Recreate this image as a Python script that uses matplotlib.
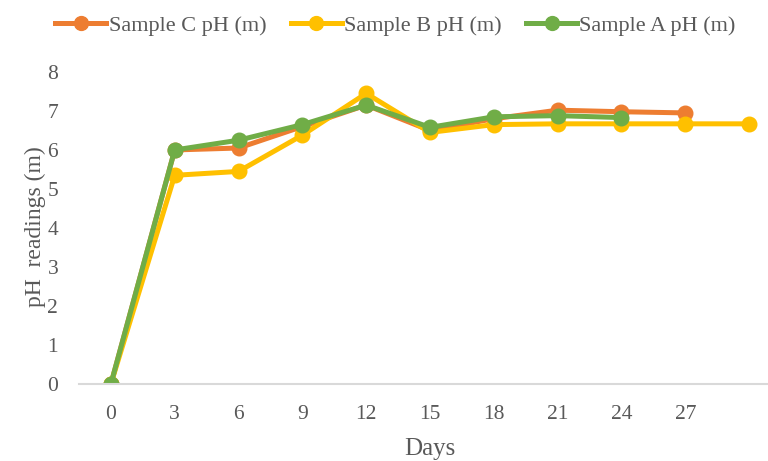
import matplotlib
matplotlib.use("Agg")
import matplotlib.pyplot as plt

days = ["0", "3", "6", "9", "12", "15", "18", "21", "24", "27", ""]
sample_c = [0, 6.0, 6.05, 6.6, 7.15, 6.5, 6.8, 7.02, 6.98, 6.95]
sample_b = [0, 5.35, 5.45, 6.38, 7.45, 6.45, 6.65, 6.67, 6.67, 6.67, 6.67]
sample_a = [0, 6.0, 6.25, 6.65, 7.15, 6.58, 6.85, 6.88, 6.83]

series = [
    ("Sample C pH (m)", sample_c, "#ED7D31"),
    ("Sample B pH (m)", sample_b, "#FFC000"),
    ("Sample A pH (m)", sample_a, "#70AD47"),
]

text_color = "#595959"
plt.rcParams["font.family"] = ["Liberation Serif", "DejaVu Serif"]

fig = plt.figure(figsize=(7.68, 4.61), dpi=100)
ax = fig.add_axes([79 / 768, 77 / 461, 702 / 768, 314 / 461])

for name, vals, color in series:
    ax.plot(range(len(vals)), vals, color=color, lw=3.6, marker="o",
            markersize=10.5, label=name, solid_joinstyle="round")

ax.set_xlim(-0.5, 10.5)
ax.set_ylim(0, 8.05)
ax.set_yticks(range(0, 9))
ax.set_xticks(range(len(days)))
ax.set_xticklabels(days)

for side in ("top", "right", "left"):
    ax.spines[side].set_visible(False)
ax.spines["bottom"].set_color("#D9D9D9")
ax.spines["bottom"].set_linewidth(1.5)
ax.tick_params(axis="both", length=0, labelsize=15.5, colors=text_color)
ax.tick_params(axis="x", pad=15)
ax.tick_params(axis="y", pad=15)

ax.set_xlabel("Days", fontsize=18, color=text_color, labelpad=10)
ax.set_ylabel("pH  readings (m)", fontsize=17, color=text_color, labelpad=1)

fig.legend(loc="upper center", bbox_to_anchor=(0.515, 1.01), ncol=3, frameon=False,
           fontsize=16, labelcolor=text_color, handlelength=2.3,
           handletextpad=0.1, columnspacing=1.1, markerscale=0.95)

fig.savefig("out.png", dpi=100)
